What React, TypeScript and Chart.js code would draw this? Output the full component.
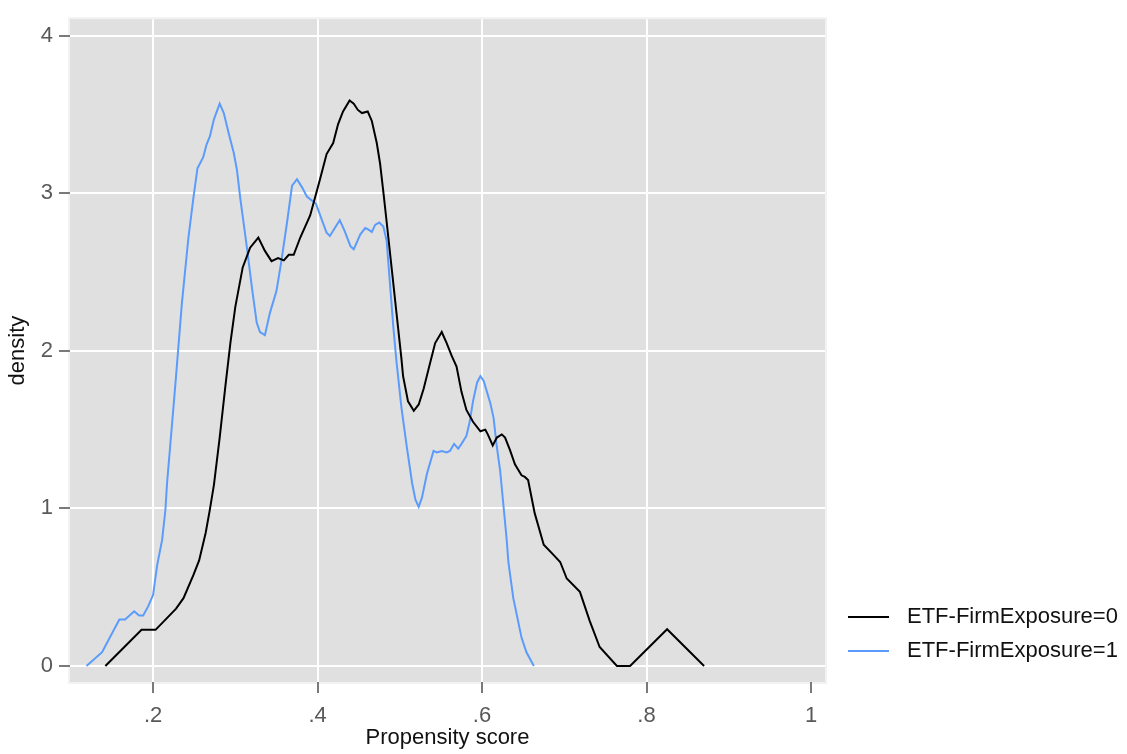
import React, { useEffect, useRef } from "react";
import { Chart, registerables } from "chart.js";

Chart.register(...registerables);

const seriesNames = ["ETF-FirmExposure=0", "ETF-FirmExposure=1"];
const seriesColors = ["#000000", "#5b9bfb"];

const x0 = [0.142, 0.186, 0.203, 0.228, 0.237, 0.249, 0.256, 0.264, 0.269, 0.274, 0.281, 0.288, 0.294, 0.3, 0.309, 0.318, 0.328, 0.336, 0.344, 0.352, 0.359, 0.365, 0.371, 0.379, 0.391, 0.403, 0.411, 0.419, 0.425, 0.431, 0.439, 0.444, 0.449, 0.454, 0.461, 0.466, 0.472, 0.476, 0.48, 0.484, 0.49, 0.496, 0.502, 0.504, 0.51, 0.517, 0.523, 0.529, 0.535, 0.543, 0.551, 0.557, 0.563, 0.569, 0.575, 0.581, 0.589, 0.598, 0.604, 0.607, 0.613, 0.618, 0.624, 0.628, 0.634, 0.64, 0.648, 0.652, 0.656, 0.664, 0.675, 0.686, 0.695, 0.703, 0.719, 0.731, 0.743, 0.764, 0.78, 0.825, 0.87];
const y0 = [0, 0.229, 0.229, 0.364, 0.43, 0.576, 0.67, 0.846, 0.991, 1.15, 1.45, 1.78, 2.05, 2.28, 2.53, 2.655, 2.72, 2.635, 2.57, 2.59, 2.575, 2.61, 2.61, 2.72, 2.86, 3.09, 3.25, 3.32, 3.44, 3.52, 3.59, 3.57, 3.53, 3.51, 3.52, 3.46, 3.32, 3.19, 3.01, 2.82, 2.53, 2.24, 1.95, 1.84, 1.68, 1.62, 1.66, 1.76, 1.885, 2.05, 2.12, 2.05, 1.97, 1.9, 1.74, 1.625, 1.55, 1.49, 1.5, 1.47, 1.4, 1.45, 1.47, 1.45, 1.37, 1.28, 1.21, 1.2, 1.18, 0.97, 0.77, 0.71, 0.66, 0.555, 0.47, 0.285, 0.12, 0, 0, 0.233, 0];

const x1 = [0.119, 0.138, 0.159, 0.166, 0.177, 0.183, 0.188, 0.194, 0.2, 0.205, 0.211, 0.215, 0.217, 0.227, 0.235, 0.243, 0.249, 0.254, 0.261, 0.265, 0.269, 0.274, 0.281, 0.286, 0.292, 0.298, 0.302, 0.306, 0.314, 0.32, 0.326, 0.33, 0.336, 0.342, 0.35, 0.356, 0.363, 0.369, 0.375, 0.381, 0.387, 0.398, 0.404, 0.411, 0.415, 0.421, 0.427, 0.433, 0.44, 0.444, 0.452, 0.458, 0.462, 0.466, 0.47, 0.475, 0.48, 0.484, 0.488, 0.492, 0.496, 0.502, 0.508, 0.515, 0.519, 0.523, 0.527, 0.533, 0.541, 0.545, 0.551, 0.557, 0.561, 0.566, 0.571, 0.575, 0.581, 0.585, 0.589, 0.594, 0.598, 0.602, 0.61, 0.614, 0.618, 0.622, 0.626, 0.63, 0.632, 0.638, 0.648, 0.654, 0.663];
const y1 = [0, 0.087, 0.295, 0.295, 0.347, 0.32, 0.32, 0.378, 0.45, 0.64, 0.8, 0.99, 1.16, 1.78, 2.3, 2.72, 2.97, 3.16, 3.23, 3.31, 3.36, 3.47, 3.57, 3.51, 3.38, 3.26, 3.15, 2.97, 2.66, 2.41, 2.18, 2.12, 2.1, 2.24, 2.38, 2.57, 2.82, 3.05, 3.09, 3.04, 2.98, 2.935, 2.85, 2.75, 2.73, 2.78, 2.83, 2.76, 2.665, 2.645, 2.74, 2.78, 2.77, 2.755, 2.8, 2.815, 2.79, 2.7, 2.43, 2.16, 1.93, 1.64, 1.41, 1.16, 1.055, 1.01, 1.07, 1.22, 1.365, 1.355, 1.365, 1.355, 1.365, 1.41, 1.38, 1.41, 1.46, 1.55, 1.68, 1.8, 1.84, 1.81, 1.67, 1.575, 1.39, 1.24, 1.02, 0.8, 0.66, 0.43, 0.18, 0.087, 0];

const xTickValues = [0.2, 0.4, 0.6, 0.8, 1];
const xTickLabels = [".2", ".4", ".6", ".8", "1"];
const yTickValues = [0, 1, 2, 3, 4];
const yTickLabels = ["0", "1", "2", "3", "4"];

const xTitle = "Propensity score";
const yTitle = "density";

const FONT = "'Liberation Sans', Arial, sans-serif";

export default function App() {
  const ref = useRef<HTMLCanvasElement | null>(null);

  useEffect(() => {
    document.body.style.margin = "0";
    const canvas = ref.current;
    if (!canvas) return;

    const bgPlugin = {
      id: "plotBg",
      beforeDraw(chart: any) {
        const { ctx, chartArea } = chart;
        ctx.save();
        ctx.fillStyle = "#ffffff";
        ctx.fillRect(0, 0, chart.width, chart.height);
        ctx.fillStyle = "#f2f2f2";
        ctx.fillRect(chartArea.left - 2, chartArea.top - 2, chartArea.right - chartArea.left + 4, chartArea.bottom - chartArea.top + 4);
        ctx.fillStyle = "#e0e0e0";
        ctx.fillRect(chartArea.left, chartArea.top, chartArea.right - chartArea.left, chartArea.bottom - chartArea.top);
        ctx.restore();
      },
    };

    const legendPlugin = {
      id: "customLegend",
      afterDraw(chart: any) {
        const { ctx } = chart;
        ctx.save();
        const rows = [617, 651];
        seriesNames.forEach((name, i) => {
          const y = rows[i];
          ctx.strokeStyle = seriesColors[i];
          ctx.lineWidth = 2;
          ctx.beginPath();
          ctx.moveTo(848, y);
          ctx.lineTo(889, y);
          ctx.stroke();
          ctx.fillStyle = "#111111";
          ctx.font = `22px ${FONT}`;
          ctx.textBaseline = "middle";
          ctx.textAlign = "left";
          ctx.fillText(name, 907, y);
        });
        ctx.restore();
      },
    };

    const toPts = (xs: number[], ys: number[]) => xs.map((x, i) => ({ x, y: ys[i] }));

    const chart = new Chart(canvas, {
      type: "line",
      data: {
        datasets: [
          {
            label: seriesNames[0],
            data: toPts(x0, y0),
            borderColor: seriesColors[0],
            borderWidth: 2,
            pointRadius: 0,
            tension: 0,
            fill: false,
          },
          {
            label: seriesNames[1],
            data: toPts(x1, y1),
            borderColor: seriesColors[1],
            borderWidth: 2,
            pointRadius: 0,
            tension: 0,
            fill: false,
          },
        ],
      },
      options: {
        animation: false,
        responsive: false,
        layout: { padding: { top: 7, right: 302, left: 0, bottom: 0 } },
        plugins: {
          legend: { display: false },
          tooltip: { enabled: false },
        },
        scales: {
          x: {
            type: "linear",
            min: 0.099,
            max: 1.017,
            afterFit: (s: any) => {
              s.height = 72;
            },
            afterBuildTicks: (s: any) => {
              s.ticks = xTickValues.map((v) => ({ value: v }));
            },
            ticks: {
              autoSkip: false,
              maxRotation: 0,
              padding: 10,
              color: "#595959",
              font: { family: FONT, size: 22 },
              callback: (v: any) => {
                const i = xTickValues.findIndex((t) => Math.abs(t - Number(v)) < 1e-9);
                return i >= 0 ? xTickLabels[i] : "";
              },
            },
            grid: {
              color: (c: any) => (c.tick && Math.abs(c.tick.value - 1) < 1e-9 ? "rgba(0,0,0,0)" : "#ffffff"),
              lineWidth: 2,
              tickColor: "#7a7a7a",
              tickLength: 11,
              tickWidth: 2,
            },
            border: { display: false },
            title: {
              display: true,
              text: xTitle,
              color: "#111111",
              font: { family: FONT, size: 22 },
              padding: { top: 0, bottom: 3 },
            },
          },
          y: {
            type: "linear",
            min: -0.102,
            max: 4.106,
            afterFit: (s: any) => {
              s.width = 70;
            },
            afterBuildTicks: (s: any) => {
              s.ticks = yTickValues.map((v) => ({ value: v }));
            },
            ticks: {
              autoSkip: false,
              padding: 6,
              color: "#595959",
              font: { family: FONT, size: 22 },
              callback: (v: any) => {
                const i = yTickValues.findIndex((t) => Math.abs(t - Number(v)) < 1e-9);
                return i >= 0 ? yTickLabels[i] : "";
              },
            },
            grid: {
              color: "#ffffff",
              lineWidth: 2,
              tickColor: "#7a7a7a",
              tickLength: 11,
              tickWidth: 2,
            },
            border: { display: false },
            title: {
              display: true,
              text: yTitle,
              color: "#111111",
              font: { family: FONT, size: 22 },
              padding: { top: 5, bottom: 0 },
            },
          },
        },
      },
      plugins: [bgPlugin, legendPlugin],
    } as any);

    return () => chart.destroy();
  }, []);

  return (
    <div style={{ width: 1127, height: 754 }}>
      <canvas ref={ref} width={1127} height={754} style={{ width: 1127, height: 754, display: "block" }} />
    </div>
  );
}
